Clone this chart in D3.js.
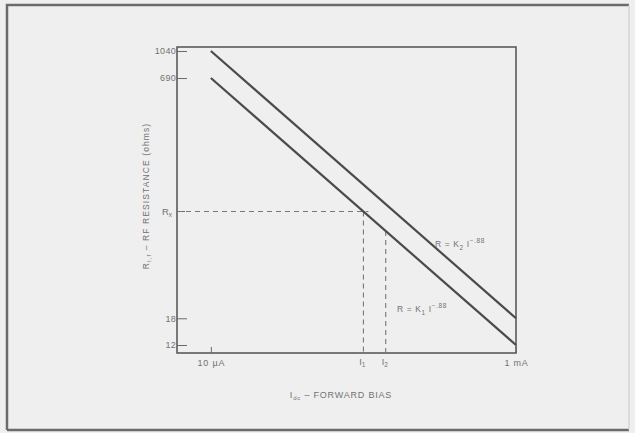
<!DOCTYPE html>
<html>
<head>
<meta charset="utf-8">
<script src="https://cdn.jsdelivr.net/npm/d3@7"></script>
<style>
  html,body{margin:0;padding:0;background:#efefef;}
  svg{display:block;}
  text{font-family:"Liberation Sans",Arial,sans-serif;fill:#727272;}
</style>
</head>
<body>
<svg id="chart" width="635" height="433"></svg>
<script>
// ---- data ----
const currents = [10e-6, 1e-3];               // A, 10 µA .. 1 mA
const seriesK2 = [1040, 18];                  // upper line R = K2 I^-.88
const seriesK1 = [690, 12];                   // lower line R = K1 I^-.88
const yTickValues = [1040, 690, 18, 12];
const yTickLabels = ["1040", "690", "18", "12"];
const xTickValues = [10e-6, 1e-3];
const xTickLabels = ["10 µA", "1 mA"];
const I1 = 100e-6, I2 = 140e-6, Rx = 91;

(function(){
const svg = d3.select("#chart");
const W = 635, H = 433;

// frame
svg.append("rect").attr("x",0).attr("y",0).attr("width",W).attr("height",H).attr("fill","#efefef");
svg.append("path").attr("d","M7,430 L7,5 L629,5").attr("fill","none").attr("stroke","#6b6b6b").attr("stroke-width",2.5);
svg.append("path").attr("d","M7,430 L629,430").attr("fill","none").attr("stroke","#6b6b6b").attr("stroke-width",2.5);
svg.append("path").attr("d","M629,5 L629,430").attr("fill","none").attr("stroke","#cfcfcf").attr("stroke-width",1.2);

const pL = 177, pR = 516, pT = 47, pB = 353;

const x = d3.scaleLog().domain([6e-6, 1e-3]).range([pL, pR]);
// log scale fitted to the printed tick / line positions
const y = d3.scaleLog().domain([1040, 12]).range([51, 345]);

const g = svg.append("g");

// plot box
g.append("rect").attr("x",pL).attr("y",pT).attr("width",pR-pL).attr("height",pB-pT)
  .attr("fill","none").attr("stroke","#5a5a5a").attr("stroke-width",1.6);

// y ticks
const yAxis = d3.axisLeft(y).tickValues(yTickValues)
  .tickFormat((d,i)=>yTickLabels[i]).tickSizeInner(-10).tickSizeOuter(0).tickPadding(3);
const ya = g.append("g").attr("transform",`translate(${pL},0)`).call(yAxis);
ya.select(".domain").remove();
ya.selectAll("line").attr("stroke","#6a6a6a").attr("stroke-width",1);
ya.selectAll("text").attr("font-size",9).attr("fill","#727272").attr("letter-spacing",0.3).attr("dx",2);

// Rx tick
g.append("line").attr("x1",pL).attr("x2",pL+8).attr("y1",y(Rx)).attr("y2",y(Rx)).attr("stroke","#6a6a6a");
const rxt = g.append("text").attr("x",pL-5).attr("y",y(Rx)+3).attr("text-anchor","end").attr("font-size",9.5);
rxt.append("tspan").text("R");
rxt.append("tspan").attr("font-size",6.5).attr("dy",2).text("x");

// x ticks
const xAxis = d3.axisBottom(x).tickValues(xTickValues)
  .tickFormat((d,i)=>xTickLabels[i]).tickSizeInner(-6).tickSizeOuter(0).tickPadding(7);
const xa = g.append("g").attr("transform",`translate(0,${pB})`).call(xAxis);
xa.select(".domain").remove();
xa.selectAll("line").attr("stroke","#6a6a6a").attr("stroke-width",1);
xa.selectAll("text").attr("font-size",9).attr("fill","#727272").attr("letter-spacing",0.8);

// dashed guides
const dash = "5,4";
g.append("line").attr("x1",pL).attr("x2",x(I1)+5).attr("y1",y(Rx)).attr("y2",y(Rx))
  .attr("stroke","#777").attr("stroke-width",1.1).attr("stroke-dasharray",dash);
g.append("line").attr("x1",x(I1)).attr("x2",x(I1)).attr("y1",y(Rx)).attr("y2",pB)
  .attr("stroke","#777").attr("stroke-width",1.1).attr("stroke-dasharray",dash);
const r1AtI2 = seriesK1[0]*Math.pow(I2/currents[0], Math.log(seriesK1[1]/seriesK1[0])/Math.log(currents[1]/currents[0]));
g.append("line").attr("x1",x(I2)).attr("x2",x(I2)).attr("y1",y(r1AtI2)).attr("y2",pB)
  .attr("stroke","#777").attr("stroke-width",1.1).attr("stroke-dasharray",dash);

// I1, I2 labels
[[I1,"1"],[I2,"2"]].forEach(([v,s])=>{
  const t = g.append("text").attr("x",x(v)-1).attr("y",pB+12).attr("text-anchor","middle").attr("font-size",9);
  t.append("tspan").text("I");
  t.append("tspan").attr("font-size",6.5).attr("dy",2).text(s);
});

// data lines
const line = d3.line().x(d=>x(d[0])).y(d=>y(d[1]));
[seriesK2, seriesK1].forEach(s=>{
  g.append("path").datum(currents.map((c,i)=>[c,s[i]])).attr("d",line)
    .attr("fill","none").attr("stroke","#4a4a4a").attr("stroke-width",2.2);
});

// equation labels
function eq(xp, yp, k){
  const t = g.append("text").attr("x",xp).attr("y",yp).attr("font-size",8.5).attr("letter-spacing",0.6);
  t.append("tspan").text("R = K");
  t.append("tspan").attr("font-size",6.5).attr("dy",2.5).text(k);
  t.append("tspan").attr("dy",-2.5).text(" I");
  t.append("tspan").attr("font-size",6.5).attr("dy",-4).text("−.88");
}
eq(435, 247, "2");
eq(397, 312, "1");

// axis titles
const xt = g.append("text").attr("x",341).attr("y",398).attr("text-anchor","middle").attr("font-size",9).attr("letter-spacing",0.8);
xt.append("tspan").text("I");
xt.append("tspan").attr("font-size",6).attr("dy",2).text("dc");
xt.append("tspan").attr("dy",-2).text(" – FORWARD BIAS");

const yt = g.append("text").attr("transform","translate(149,196) rotate(-90)").attr("text-anchor","middle").attr("font-size",8.5).attr("letter-spacing",1.1);
yt.append("tspan").text("R");
yt.append("tspan").attr("font-size",6).attr("dy",2).text("I,f");
yt.append("tspan").attr("dy",-2).text(" – RF RESISTANCE (ohms)");
})();
</script>
</body>
</html>
